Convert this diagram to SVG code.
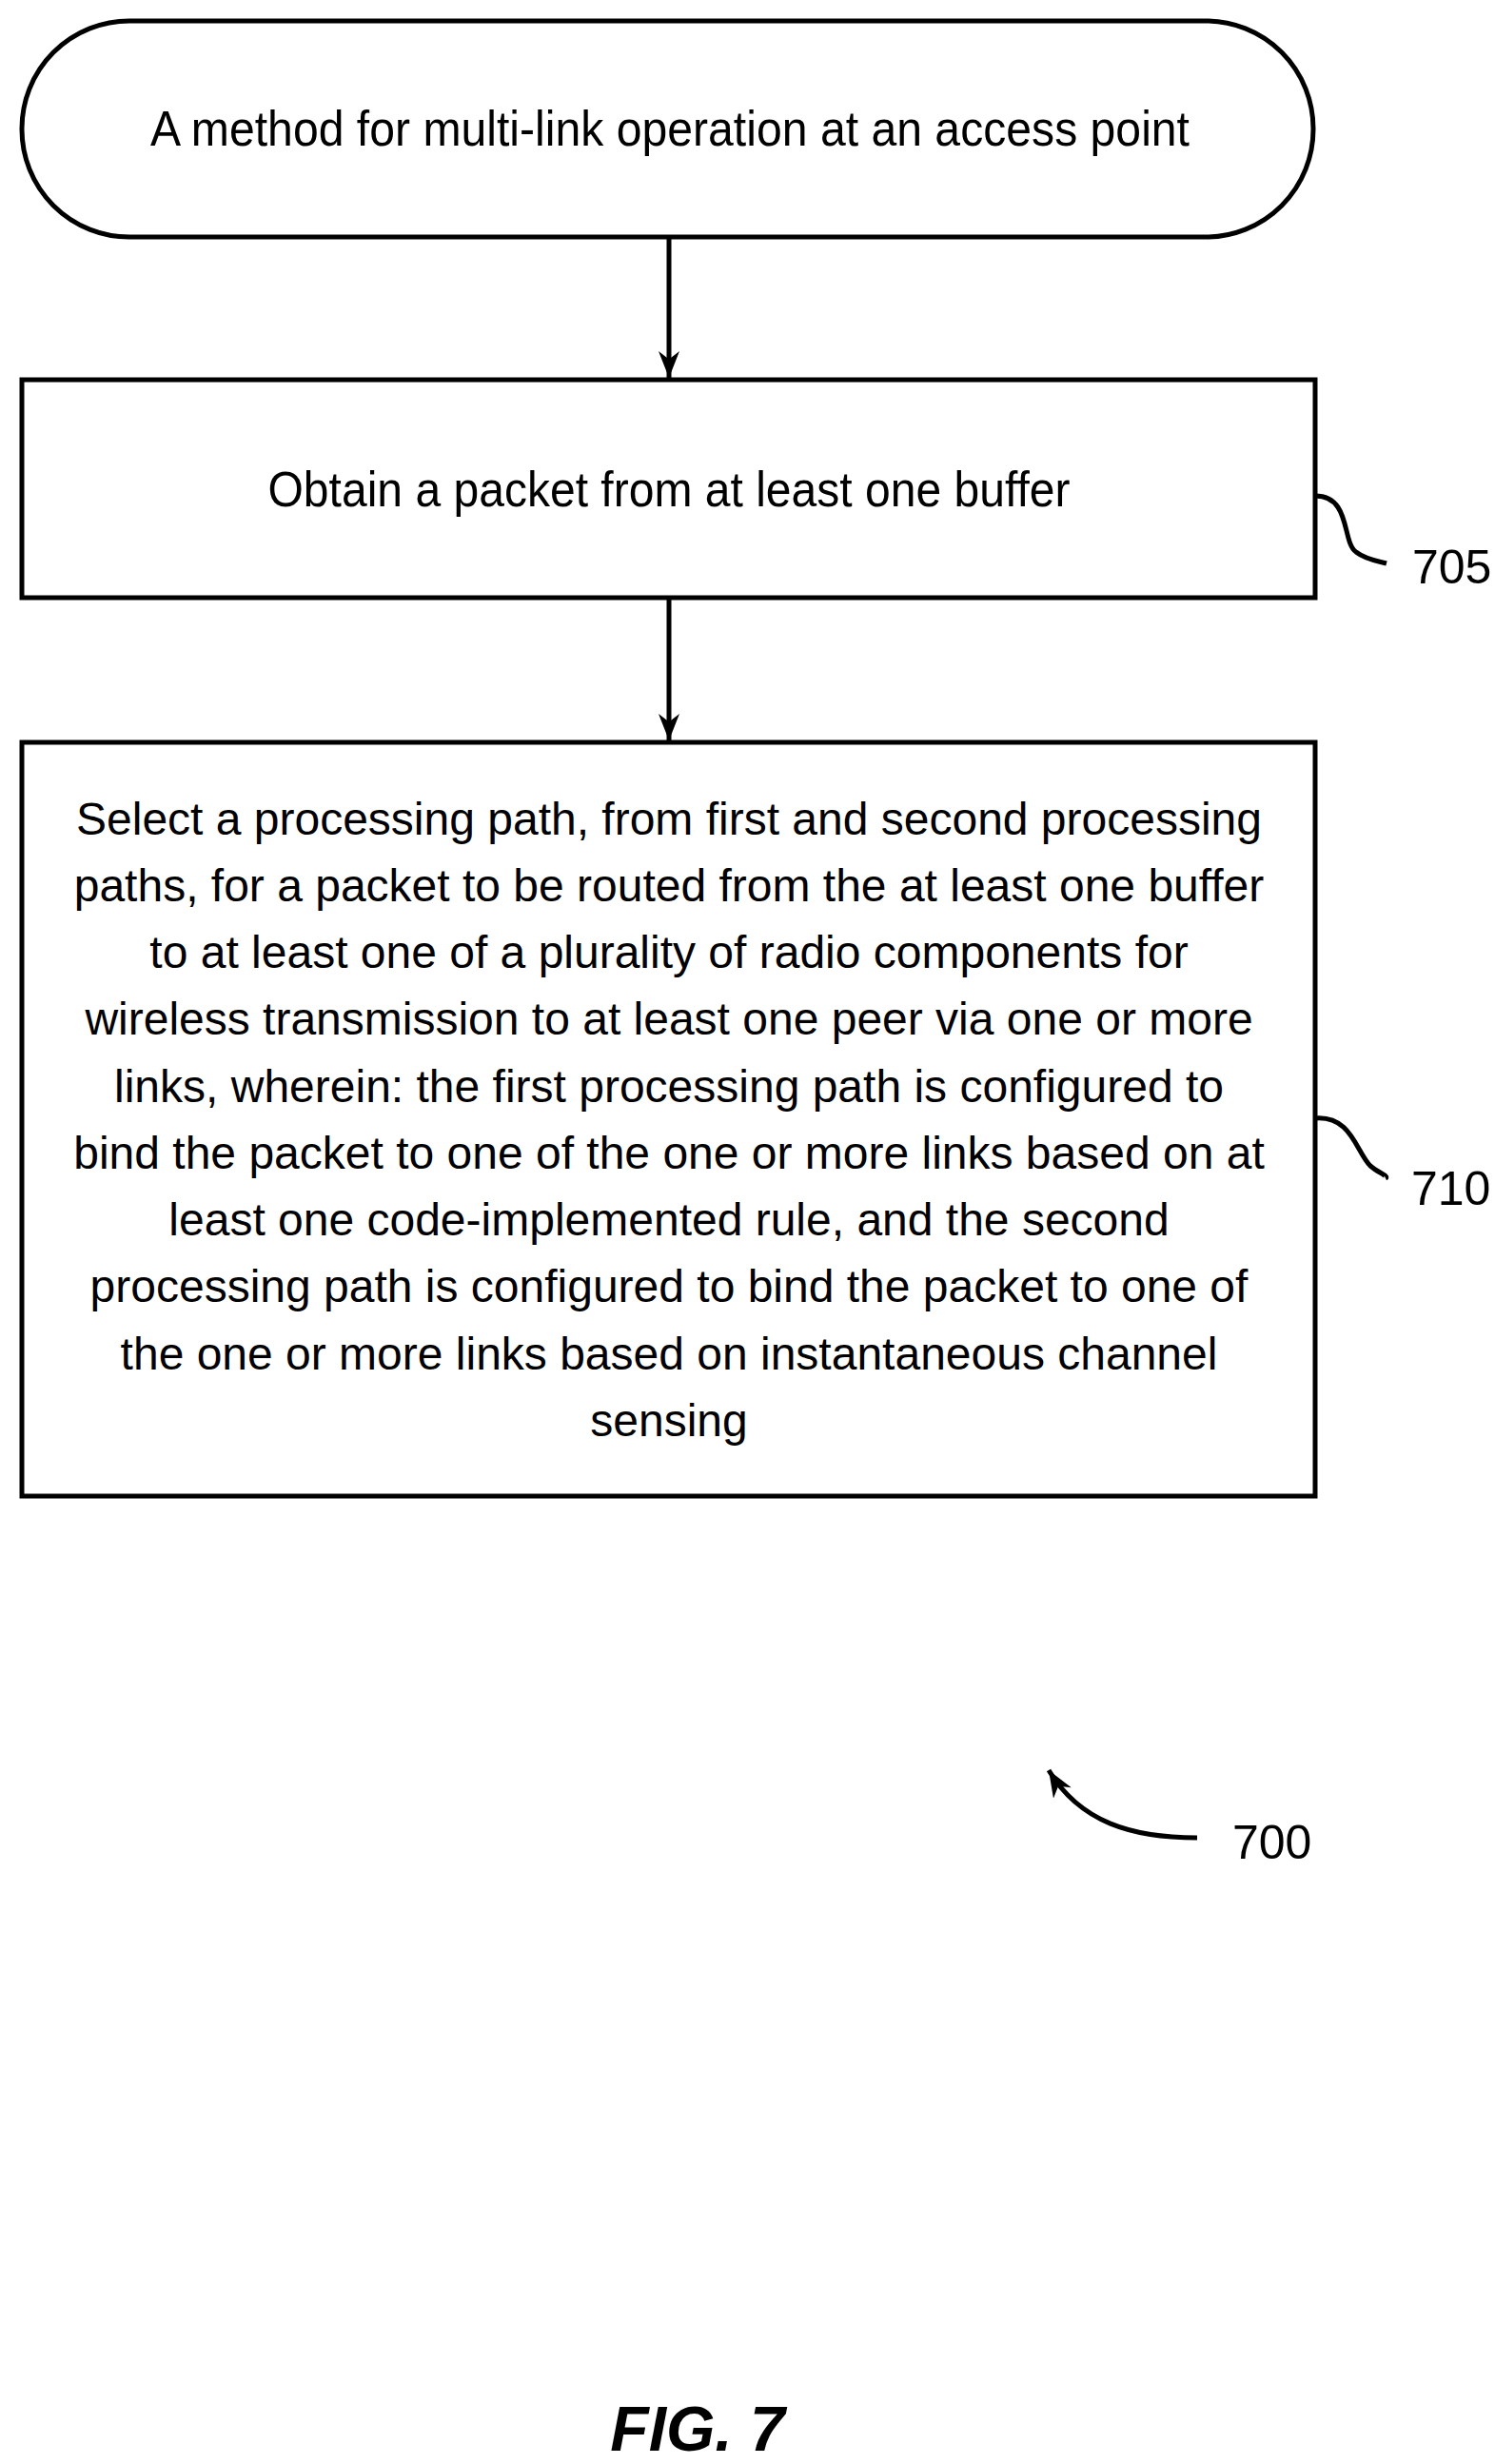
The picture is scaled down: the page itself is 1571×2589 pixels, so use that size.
<svg xmlns="http://www.w3.org/2000/svg" width="1571" height="2589" viewBox="0 0 1571 2589">
<style>
.s{fill:none;stroke:#000;stroke-width:5}
.t{font-family:"Liberation Sans",Arial,sans-serif;fill:#000;text-anchor:middle}
.n{font-size:52px}
.b{font-size:48px}
.r{font-family:"Liberation Sans",Arial,sans-serif;font-size:50px;fill:#000}
</style>
<defs>
<marker id="a" viewBox="0 0 20 20" refX="20" refY="10" markerWidth="28" markerHeight="22" orient="auto" markerUnits="userSpaceOnUse" preserveAspectRatio="none"><path d="M0,0 L20,10 L0,20 L6,10 z" fill="#000"/></marker>
</defs>
<rect width="1571" height="2589" fill="#fff"/>
<g id="start">
<rect class="s" x="23" y="22" width="1357" height="227" rx="113" ry="113"/>
<text class="t n" x="704" y="153" textLength="1092" lengthAdjust="spacingAndGlyphs">A method for multi-link operation at an access point</text>
</g>
<g id="n705">
<rect class="s" x="23" y="399" width="1359" height="229"/>
<text class="t n" x="703" y="532" textLength="843" lengthAdjust="spacingAndGlyphs">Obtain a packet from at least one buffer</text>
</g>
<g id="n710">
<rect class="s" x="23" y="780" width="1359" height="792"/>
<text class="t b" x="703" y="877">Select a processing path, from first and second processing</text>
<text class="t b" x="703" y="947">paths, for a packet to be routed from the at least one buffer</text>
<text class="t b" x="703" y="1017">to at least one of a plurality of radio components for</text>
<text class="t b" x="703" y="1087">wireless transmission to at least one peer via one or more</text>
<text class="t b" x="703" y="1158">links, wherein: the first processing path is configured to</text>
<text class="t b" x="703" y="1228">bind the packet to one of the one or more links based on at</text>
<text class="t b" x="703" y="1298">least one code-implemented rule, and the second</text>
<text class="t b" x="703" y="1368">processing path is configured to bind the packet to one of</text>
<text class="t b" x="703" y="1439">the one or more links based on instantaneous channel</text>
<text class="t b" x="703" y="1509">sensing</text>
</g>
<g id="connectors">
<line class="s" x1="703" y1="249" x2="703" y2="397" marker-end="url(#a)"/>
<line class="s" x1="703" y1="628" x2="703" y2="778" marker-end="url(#a)"/>
<path class="s" d="M1382,521 C1420,521 1410,570 1425,580 C1435,588 1450,590 1457,592"/>
<path class="s" d="M1382,1175 C1420,1172 1425,1210 1440,1225 C1448,1232 1460,1236 1456,1238"/>
<path class="s" d="M1258,1931 C1190,1931 1135,1915 1102,1860" marker-end="url(#a)"/>
</g>
<g id="labels">
<text class="r" x="1484" y="613">705</text>
<text class="r" x="1483" y="1266">710</text>
<text class="r" x="1295" y="1953">700</text>
<text class="t" x="733" y="2575" style="font-size:66px;font-weight:bold;font-style:italic">FIG. 7</text>
</g>
</svg>
